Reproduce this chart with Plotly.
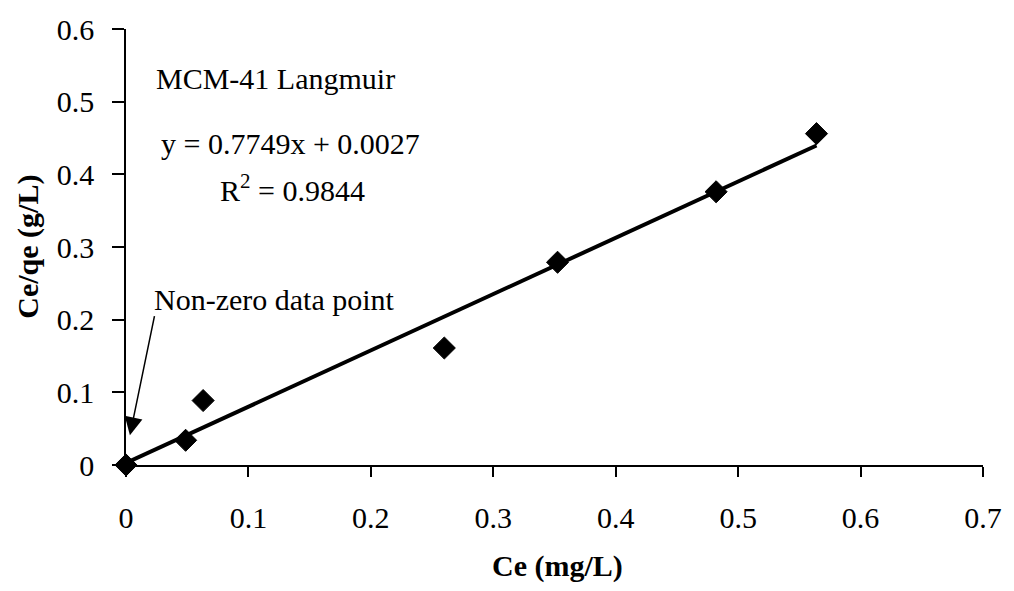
import plotly.graph_objects as go

# Langmuir linearisation for MCM-41
ce = [0.0, 0.0487, 0.063, 0.260, 0.3525, 0.482, 0.564]          # Ce (mg/L)
ce_qe = [0.0, 0.034, 0.0887, 0.161, 0.279, 0.376, 0.456]       # Ce/qe (g/L)

slope = 0.7749
intercept = 0.0027
r_squared = 0.9844

x_ticks = [0, 0.1, 0.2, 0.3, 0.4, 0.5, 0.6, 0.7]
x_tick_text = ["0", "0.1", "0.2", "0.3", "0.4", "0.5", "0.6", "0.7"]
y_ticks = [0, 0.1, 0.2, 0.3, 0.4, 0.5, 0.6]
y_tick_text = ["0", "0.1", "0.2", "0.3", "0.4", "0.5", "0.6"]

FONT = "Liberation Serif, Times New Roman, serif"
SIZE = 30

fit_x = [min(ce), max(ce)]
fit_y = [slope * v + intercept for v in fit_x]

fig = go.Figure()
fig.add_trace(go.Scatter(
    x=fit_x, y=fit_y, mode="lines",
    line=dict(color="black", width=4),
    showlegend=False, hoverinfo="skip",
))
fig.add_trace(go.Scatter(
    x=ce, y=ce_qe, mode="markers",
    marker=dict(symbol="diamond", size=17, color="black",
                line=dict(color="black", width=1)),
    showlegend=False, cliponaxis=False,
))

annotations = [
    dict(x=0.0225, y=0.532, text="MCM-41 Langmuir", xanchor="left"),
    dict(x=0.0266, y=0.442, text=f"y = {slope}x + {intercept}", xanchor="left"),
    dict(x=0.075, y=0.381, text=f"R<sup>2</sup> = {r_squared}", xanchor="left"),
    dict(x=0.0209, y=0.228, text="Non-zero data point", xanchor="left"),
]
for a in annotations:
    a.update(xref="x", yref="y", yanchor="middle", showarrow=False,
             font=dict(family=FONT, size=SIZE, color="black"))
annotations.append(dict(
    x=0.0032, y=0.041, ax=0.0235, ay=0.207, xref="x", yref="y",
    axref="x", ayref="y", text="", showarrow=True,
    arrowhead=2, arrowsize=2.4, arrowwidth=1.5, arrowcolor="black",
))
# axis titles
annotations.append(dict(
    x=0.503, y=-0.231, xref="paper", yref="paper", showarrow=False,
    text="<b>Ce (mg/L)</b>", xanchor="center", yanchor="middle",
    font=dict(family=FONT, size=SIZE, color="black"),
))
annotations.append(dict(
    x=-0.1147, y=0.5, xref="paper", yref="paper", showarrow=False,
    text="<b>Ce/qe (g/L)</b>", textangle=-90, xanchor="center", yanchor="middle",
    font=dict(family=FONT, size=SIZE, color="black"),
))

axis_common = dict(
    showgrid=False, zeroline=False, showline=True, linecolor="black",
    linewidth=1.5, ticks="outside", tickcolor="black", tickwidth=1.5,
    tickfont=dict(family=FONT, size=SIZE, color="black"),
)

fig.update_layout(
    width=1014, height=591,
    margin=dict(l=126, r=25, t=24, b=126),
    paper_bgcolor="white", plot_bgcolor="white",
    xaxis=dict(range=[0, 0.7], tickvals=x_ticks, ticktext=x_tick_text,
               ticklen=10, ticklabelstandoff=15, **axis_common),
    yaxis=dict(range=[0, 0.6], tickvals=y_ticks, ticktext=y_tick_text,
               ticklen=12, ticklabelstandoff=12, **axis_common),
    annotations=annotations,
)

fig.write_html("out.html")
